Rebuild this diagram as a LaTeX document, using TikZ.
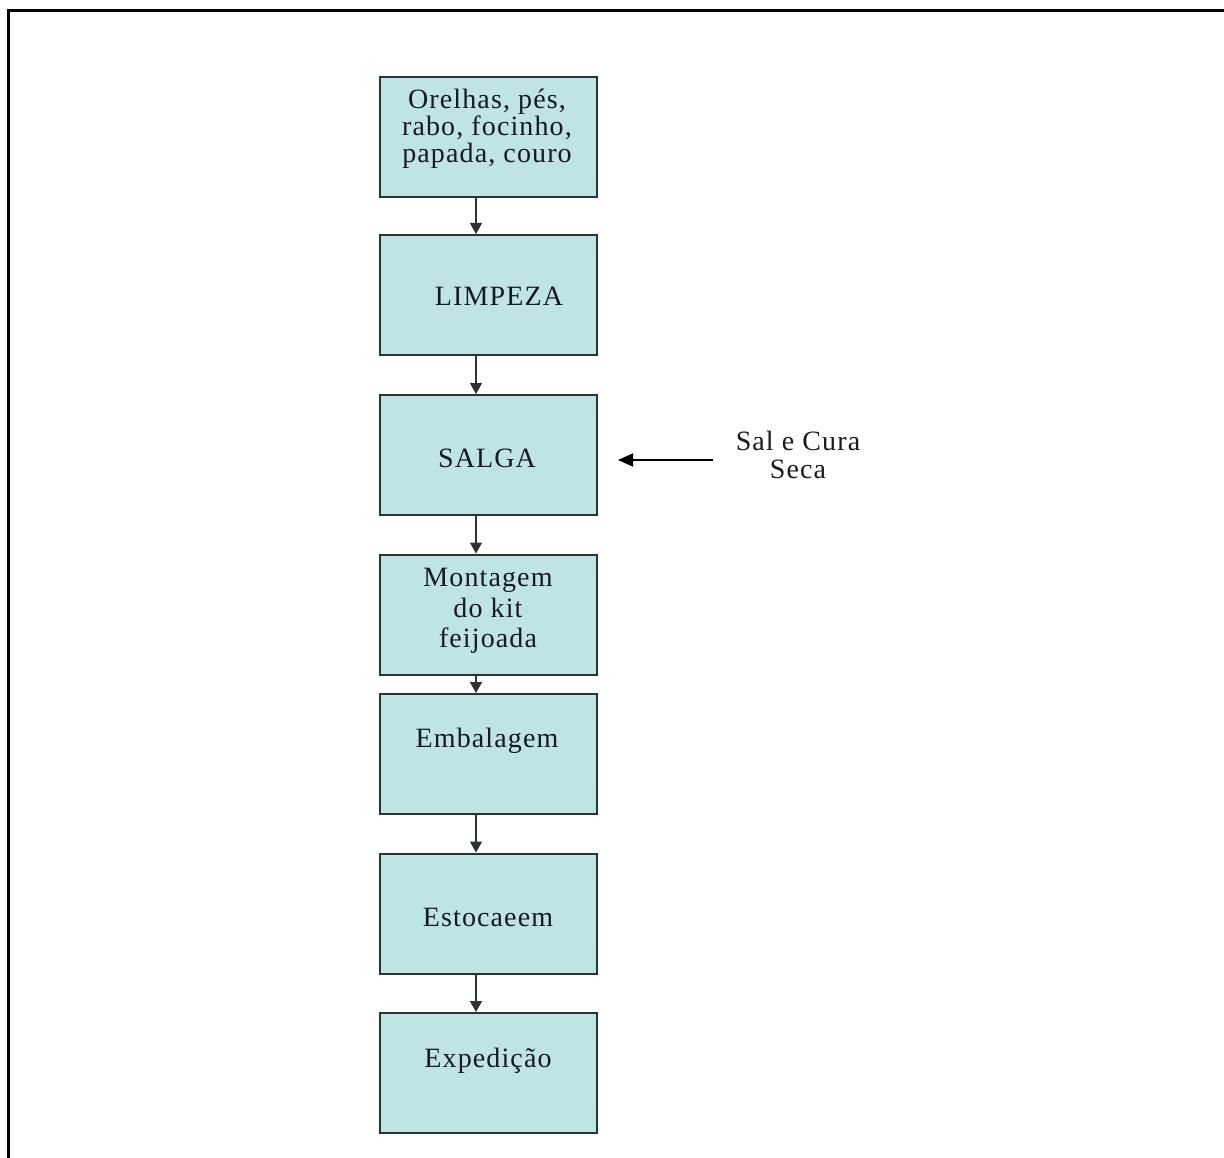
\documentclass[tikz,border=0pt]{standalone}
\usepackage{fontspec}
\setmainfont[LetterSpace=4]{Liberation Serif}
\usetikzlibrary{arrows.meta}
\definecolor{boxfill}{RGB}{190,228,228}
\definecolor{boxline}{RGB}{45,50,50}
\definecolor{ink}{RGB}{25,25,35}
\begin{document}
\begin{tikzpicture}[x=1pt,y=-1pt,
  stepbox/.style={draw=boxline,line width=2pt,fill=boxfill,minimum width=217pt,minimum height=120pt,inner sep=0pt},
  lbl/.style={text=ink,font=\fontsize{28}{29}\selectfont,inner sep=0pt,align=center},
  flow/.style={draw=boxline,line width=1.5pt,-{Triangle[length=11pt,width=12pt]}},
  feed/.style={draw=black,line width=1.8pt,-{Triangle[length=15pt,width=13pt]}}]
\useasboundingbox (0,0) rectangle (1224,1158);
% page frame (top and left edges)
\draw[line width=3pt,line cap=rect] (1224,11) -- (8,11) -- (8,1158);

% process steps
\node[stepbox] (b1) at (488.5,137) {};
\node[stepbox] (b2) at (488.5,295) {};
\node[stepbox] (b3) at (488.5,455) {};
\node[stepbox] (b4) at (488.5,614.5) {};
\node[stepbox] (b5) at (488.5,754) {};
\node[stepbox] (b6) at (488.5,913.5) {};
\node[stepbox] (b7) at (488.5,1073) {};

% step labels
\node[lbl,font=\fontsize{28}{27}\selectfont] (t1) at (487,128.5) {Orelhas, pés,\\rabo, focinho,\\papada, couro};
\node[lbl,anchor=base] (t2) at (499,306) {LIMPEZA};
\node[lbl,anchor=base] (t3) at (487,467) {SALGA};
\node[lbl,font=\fontsize{28}{30.5}\selectfont] (t4) at (488,611) {Montagem\\do kit\\feijoada};
\node[lbl,anchor=base] (t5) at (487,747) {Embalagem};
\node[lbl,anchor=base] (t6) at (488,926) {Estocaeem};
\node[lbl,anchor=base] (t7) at (488,1067) {Expedição};

% side input
\node[lbl,font=\fontsize{28}{28}\selectfont] (sal) at (798,454.5) {Sal e Cura\\Seca};
\coordinate (salfrom) at (713,460);
\coordinate (salto) at (618,460);
\draw[feed] (salfrom) -- (salto);

% flow connectors
\foreach \a/\b in {b1/b2,b2/b3,b3/b4,b4/b5,b5/b6,b6/b7}{
  \draw[flow] ([xshift=-12.5pt]\a.south) -- ([xshift=-12.5pt]\b.north);
}
\end{tikzpicture}
\end{document}
